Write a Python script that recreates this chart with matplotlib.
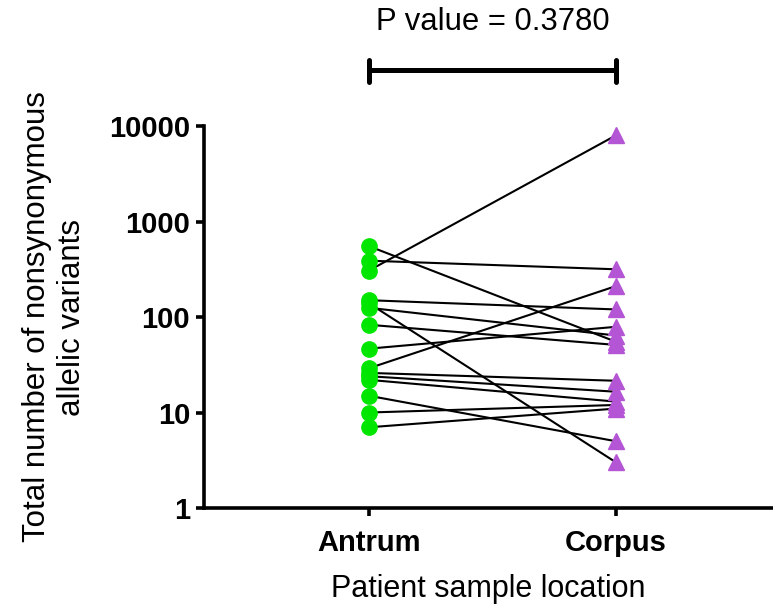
import numpy as np
import matplotlib
matplotlib.use("Agg")
import matplotlib.pyplot as plt
import matplotlib.transforms as mtransforms

plt.rcParams['font.family'] = ['Liberation Sans', 'DejaVu Sans']

# paired samples (same patient)
locations = ['Antrum', 'Corpus']
antrum = [554, 389, 305, 150, 125, 140, 83, 46.6, 29, 26, 24, 22, 15, 10, 7]
corpus = [55, 316, 8000, 120, 64, 3, 51, 79, 211, 21.5, 16.5, 13, 5, 12, 11]
p_text = 'P value = 0.3780'

fig = plt.figure(figsize=(7.73, 6.05), dpi=100)
ax = fig.add_axes([0.2639, 0.1603, 0.7348, 0.6314])

for a, c in zip(antrum, corpus):
    ax.plot([0, 1], [a, c], color='black', lw=1.5, zorder=2)

ax.plot(np.zeros(len(antrum)), antrum, 'o', color='#00E600', ms=11,
        mec='#00E600', zorder=3, clip_on=False)
ax.plot(np.ones(len(corpus)), corpus, '^', color='#B455D6', ms=11.5,
        mec='#B455D6', zorder=3, clip_on=False)

ax.set_yscale('log')
ax.set_ylim(1, 10000)
ax.set_xlim(-0.665, 1.63)
ax.set_yticks([1, 10, 100, 1000, 10000])
ax.set_yticklabels(['1', '10', '100', '1000', '10000'])
ax.yaxis.set_minor_locator(matplotlib.ticker.NullLocator())
ax.set_xticks([0, 1])
ax.set_xticklabels(locations)

for s in ['top', 'right']:
    ax.spines[s].set_visible(False)
for s in ['left', 'bottom']:
    ax.spines[s].set_linewidth(2.6)
ax.tick_params(width=2.6, length=6, labelsize=21, pad=4)
ax.tick_params(axis='x', pad=9)
for lab in ax.get_xticklabels() + ax.get_yticklabels():
    lab.set_fontweight('bold')

ax.set_xlabel('Patient sample location', fontsize=22, labelpad=12)
ax.set_ylabel('Total number of nonsynonymous\nallelic variants', fontsize=22.5,
              labelpad=16, linespacing=1.2)

# significance bracket
trans = mtransforms.blended_transform_factory(ax.transData, ax.transAxes)
ax.plot([0, 1], [1.146, 1.146], color='black', lw=3.6, transform=trans,
        clip_on=False, solid_capstyle='butt')
for x in [0, 1]:
    ax.plot([x, x], [1.115, 1.173], color='black', lw=3.6, transform=trans,
            clip_on=False, solid_capstyle='round')
ax.text(0.5, 1.272, p_text, transform=trans, ha='center', va='center',
        fontsize=22.3)

fig.savefig('out.png', dpi=100)
